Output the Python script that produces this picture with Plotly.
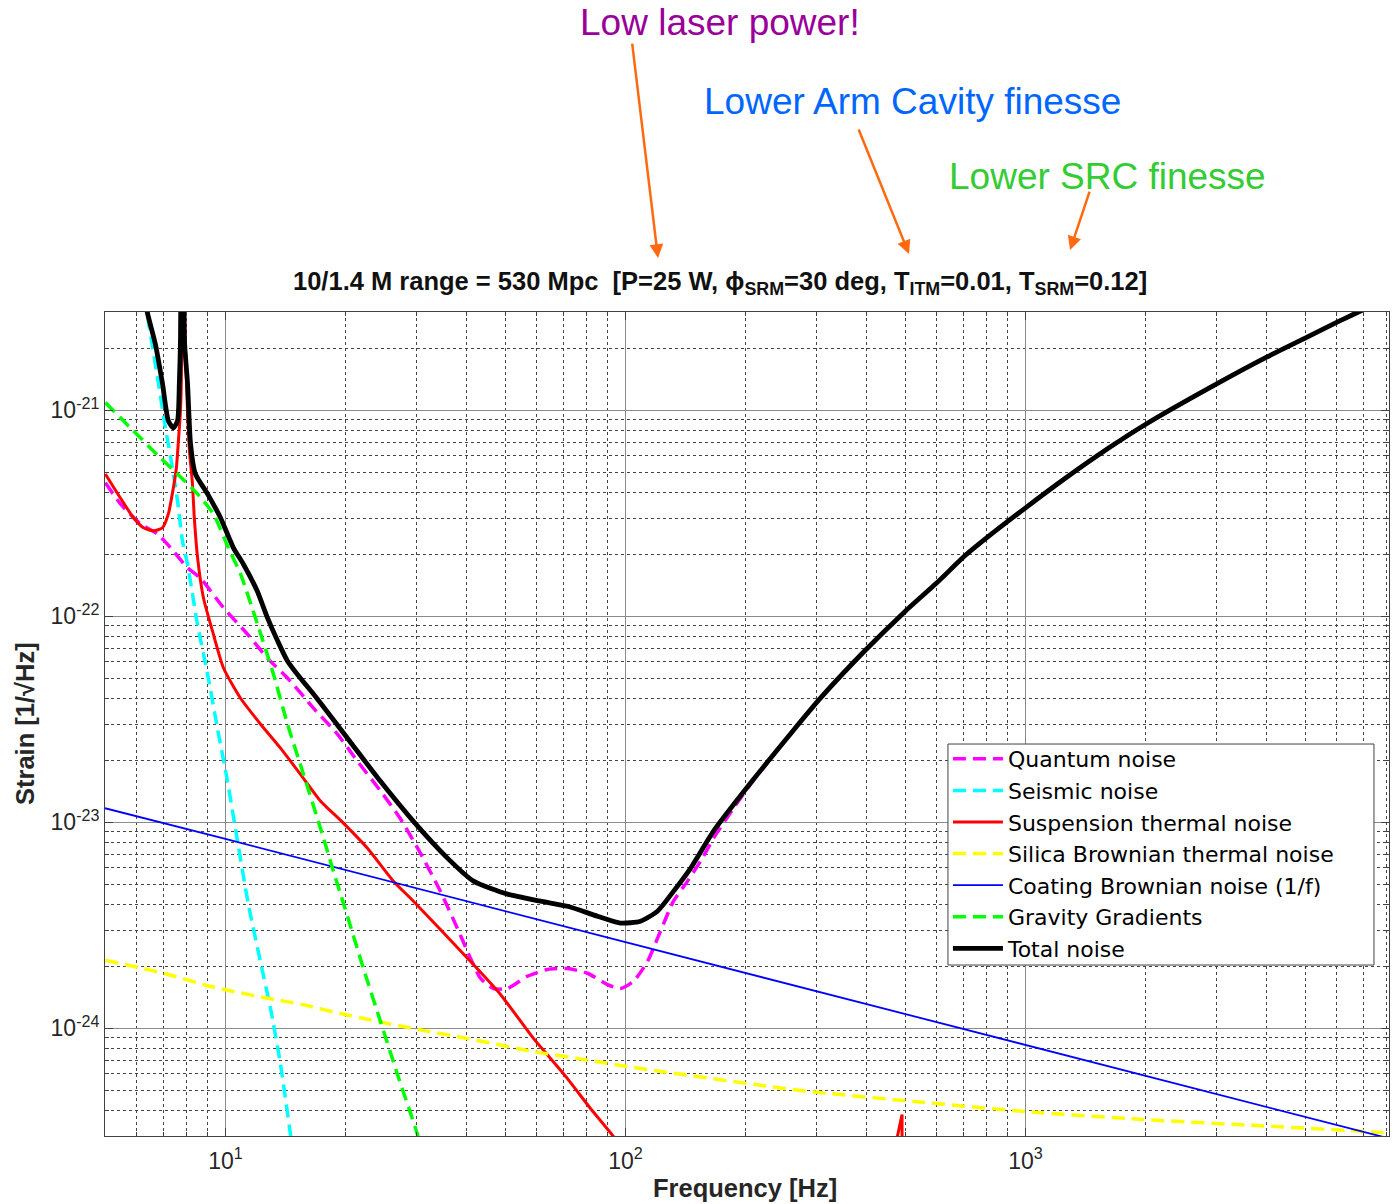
import plotly.graph_objects as go
import math

# ---------------- data ----------------
freq_quantum = [5.01, 5.46, 6.13, 6.76, 7.16, 8.04, 8.66, 9.89, 11.35, 12.74, 14.54, 16.60, 19.05,
                21.38, 24.41, 27.38, 30.72, 34.47, 38.02, 40.97, 43.40, 46.77, 50.70, 56.89, 63.83,
                71.61, 80.35, 90.16, 97.2, 104.7, 113.5, 122.3, 131.8, 142.9, 154.0, 166.0, 186.2,
                205.4, 263.0, 309.0, 395.9, 498.3, 599.2, 704.1, 798.9, 1000, 1252, 1603, 2007,
                3020, 4004, 5041, 6061, 6569, 8100]
strain_quantum = [4.45e-22, 3.52e-22, 2.81e-22, 2.51e-22, 2.24e-22, 1.72e-22, 1.53e-22, 1.10e-22,
                  8.20e-23, 6.27e-23, 4.84e-23, 3.58e-23, 2.68e-23, 1.98e-23, 1.42e-23, 1.04e-23,
                  7.08e-24, 4.62e-24, 3.05e-24, 2.19e-24, 1.75e-24, 1.56e-24, 1.56e-24, 1.79e-24,
                  1.93e-24, 1.95e-24, 1.85e-24, 1.63e-24, 1.56e-24, 1.69e-24, 2.11e-24, 2.96e-24,
                  4.14e-24, 5.18e-24, 6.47e-24, 8.37e-24, 1.17e-23, 1.53e-23, 2.80e-23, 4.06e-23,
                  6.78e-23, 1.05e-22, 1.45e-22, 1.96e-22, 2.40e-22, 3.36e-22, 4.65e-22, 6.50e-22,
                  8.60e-22, 1.35e-21, 1.81e-21, 2.26e-21, 2.70e-21, 2.91e-21, 3.52e-21]

freq_seismic = [5.0, 6.49, 6.80, 7.08, 7.37, 7.59, 7.81, 8.04, 8.51, 9.02, 9.55, 10.12, 10.72,
                11.41, 12.23, 12.96, 13.73, 14.54, 15.0]
strain_seismic = [5e-20, 2.36e-21, 1.35e-21, 8.22e-22, 5.26e-22, 3.63e-22, 2.32e-22, 1.79e-22,
                  9.18e-23, 5.25e-23, 2.86e-23, 1.58e-23, 8.09e-24, 4.00e-24, 2.11e-24, 1.25e-24,
                  6.68e-25, 3.05e-25, 2.0e-25]

# suspension thermal noise: low-frequency part with the pendulum resonance
freq_susp = [5.01, 5.46, 5.89, 6.24, 6.61, 6.96, 7.20, 7.41, 7.54, 7.63, 7.72, 7.76, 7.84, 7.92,
             8.04, 8.13, 8.27, 8.36, 8.51, 8.81, 9.28, 9.89, 10.90, 12.23, 13.73, 15.40, 17.28,
             19.72, 22.65, 26.30, 29.51, 40.27, 48.70, 58.88, 64.94, 71.61, 81.75, 93.33, 100,
             150, 250, 400]
strain_susp = [4.91e-22, 3.76e-22, 3.01e-22, 2.69e-22, 2.60e-22, 2.69e-22, 3.14e-22, 4.20e-22,
               5.26e-22, 7.11e-22, 9.95e-22, 1.44e-21, 3e-20, 2.5e-21, 9.95e-22, 6.35e-22,
               4.40e-22, 3.01e-22, 1.96e-22, 1.23e-22, 8.49e-23, 5.61e-23, 4.01e-23, 3.00e-23,
               2.29e-23, 1.71e-23, 1.27e-23, 9.91e-24, 7.48e-24, 5.18e-24, 4.14e-24, 2.19e-24,
               1.46e-24, 8.93e-25, 7.14e-25, 5.70e-25, 4.08e-25, 2.98e-25, 2.4e-25, 8e-26,
               2.2e-26, 7e-27]
# suspension thermal noise: violin-mode region
freq_violin = [400, 470, 478.6, 484.2, 491.2, 492.5, 600, 8100]
strain_violin = [7e-27, 2e-26, 3.0e-25, 3.30e-25, 3.81e-25, 1e-26, 4e-27, 1e-29]

freq_silica = [5.01, 6.03, 7.16, 9.02, 10.47, 12.74, 15.40, 19.72, 30.20, 40.27, 58.88, 78.52,
               109.0, 273.8, 528, 1006, 1961, 3780, 7289, 8100]
strain_silica = [2.14e-24, 1.98e-24, 1.83e-24, 1.61e-24, 1.51e-24, 1.40e-24, 1.31e-24, 1.17e-24,
                 9.88e-25, 8.93e-25, 7.71e-25, 7.06e-25, 6.38e-25, 4.99e-25, 4.41e-25, 3.94e-25,
                 3.61e-25, 3.37e-25, 3.15e-25, 3.10e-25]

freq_coating = [5, 10, 100, 1000, 8100]
strain_coating = [1.17e-23, 8.3e-24, 2.62e-24, 8.3e-25, 2.92e-25]

freq_gravity = [5.01, 5.89, 6.88, 7.59, 8.51, 9.33, 10.17, 10.90, 12.02, 13.18, 14.29, 15.67,
                17.28, 18.62, 19.72, 22.13, 24.41, 26.92, 30.20, 32.0]
strain_gravity = [1.09e-21, 7.94e-22, 5.87e-22, 4.91e-22, 3.93e-22, 3.14e-22, 2.15e-22, 1.61e-22,
                  9.18e-23, 5.25e-23, 3.00e-23, 1.71e-23, 9.36e-24, 5.78e-24, 4.05e-24, 1.95e-24,
                  1.08e-24, 5.97e-25, 3.05e-25, 2.0e-25]

freq_total = [5.0, 6.0, 6.38, 6.68, 6.96, 7.20, 7.41, 7.59, 7.67, 7.72, 7.81, 7.90, 8.04, 8.18,
              8.41, 9.02, 9.72, 10.47, 11.09, 12.0, 12.74, 13.5, 14.29, 15.4, 16.60, 20.18, 24.41,
              29.51, 35.89, 41.69, 50.70, 61.30, 71.6, 85.1, 97.2, 109.0, 120.2, 131.8, 145.4,
              166.0, 205.4, 263.0, 309.0, 395.9, 498.3, 599.2, 704.1, 798.9, 1000, 1252, 1603,
              2007, 3020, 4004, 5041, 6061, 6569, 8100]
strain_total = [5e-20, 5.5e-21, 2.98e-21, 2.10e-21, 1.35e-21, 8.89e-22, 8.22e-22, 8.89e-22,
                1.35e-21, 2.18e-21, 1e-19, 2.18e-21, 1.35e-21, 6.87e-22, 4.91e-22, 3.93e-22,
                3.01e-22, 2.15e-22, 1.79e-22, 1.33e-22, 9.82e-23, 7.6e-23, 6.07e-23, 5.0e-23,
                4.19e-23, 2.56e-23, 1.58e-23, 1.01e-23, 6.70e-24, 5.18e-24, 4.48e-24, 4.14e-24,
                3.91e-24, 3.50e-24, 3.24e-24, 3.31e-24, 3.70e-24, 4.62e-24, 5.98e-24, 9.06e-24,
                1.55e-23, 2.80e-23, 4.06e-23, 6.78e-23, 1.05e-22, 1.45e-22, 1.96e-22, 2.40e-22,
                3.36e-22, 4.65e-22, 6.50e-22, 8.60e-22, 1.35e-21, 1.81e-21, 2.26e-21, 2.70e-21,
                2.91e-21, 3.52e-21]

x_tick_vals = [10, 100, 1000]
x_tick_text = ["10<sup>1</sup>", "10<sup>2</sup>", "10<sup>3</sup>"]
y_tick_vals = [1e-24, 1e-23, 1e-22, 1e-21]
y_tick_text = ["10<sup>-24</sup>", "10<sup>-23</sup>", "10<sup>-22</sup>", "10<sup>-21</sup>"]

# ---------------- figure ----------------
FONT = "Liberation Sans, Arial, Helvetica, sans-serif"
LEGEND_FONT = "DejaVu Sans, Liberation Sans, Arial, sans-serif"
DASH = "13px,7px"

fig = go.Figure()
series = [
    ("Quantum noise", freq_quantum, strain_quantum, "#ff00ff", 3.5, DASH, "spline", True),
    ("Seismic noise", freq_seismic, strain_seismic, "#00ffff", 3.5, DASH, "spline", True),
    ("Suspension thermal noise", freq_susp, strain_susp, "#ff0000", 3.0, "solid", "spline", True),
    ("Suspension thermal noise", freq_violin, strain_violin, "#ff0000", 3.0, "solid", "linear", False),
    ("Silica Brownian thermal noise", freq_silica, strain_silica, "#ffff00", 3.5, DASH, "spline", True),
    ("Coating Brownian noise (1/f)", freq_coating, strain_coating, "#0000ff", 1.8, "solid", "linear", True),
    ("Gravity Gradients", freq_gravity, strain_gravity, "#00ff00", 3.5, DASH, "spline", True),
    ("Total noise", freq_total, strain_total, "#000000", 4.8, "solid", "spline", True),
]
for name, fx, fy, col, w, d, shp, leg in series:
    line = dict(color=col, width=w, dash=d, shape=shp)
    if shp == "spline":
        line["smoothing"] = 0.6
    fig.add_trace(go.Scatter(x=fx, y=fy, mode="lines", name=name, line=line,
                             showlegend=leg, hoverinfo="skip"))

def minor_vals(lo_exp, hi_exp):
    vals = []
    for e in range(lo_exp, hi_exp + 1):
        for m in range(2, 10):
            vals.append(m * 10.0 ** e)
    return vals

axis_common = dict(
    type="log", showline=True, linecolor="#404040", linewidth=1, mirror="all",
    showgrid=True, gridcolor="#8a8a8a", gridwidth=1,
    ticks="inside", ticklen=8, tickcolor="#404040",
    tickfont=dict(family=FONT, size=23, color="#262626"),
    zeroline=False,
)

fig.update_xaxes(
    **axis_common,
    range=[math.log10(5), math.log10(8100)],
    tickmode="array", tickvals=x_tick_vals, ticktext=x_tick_text,
    ticklabelstandoff=4,
    minor=dict(tickvals=minor_vals(0, 3), showgrid=True, gridcolor="#444444",
               griddash="3px,3px", gridwidth=1, ticks="inside", ticklen=4, tickcolor="#404040"),
)
fig.update_yaxes(
    **axis_common,
    range=[math.log10(3e-25), math.log10(3e-21)],
    tickmode="array", tickvals=y_tick_vals, ticktext=y_tick_text,
    minor=dict(tickvals=minor_vals(-25, -21), showgrid=True, gridcolor="#444444",
               griddash="3px,3px", gridwidth=1, ticks="inside", ticklen=4, tickcolor="#404040"),
)

annotations = [
    dict(text="<b>10/1.4 M range = 530 Mpc\u00a0\u00a0[P=25 W, \u03d5<sub>SRM</sub>=30 deg, "
              "T<sub>ITM</sub>=0.01, T<sub>SRM</sub>=0.12]</b>",
         x=0.479, y=1.0352, xref="paper", yref="paper", showarrow=False,
         xanchor="center", yanchor="middle", font=dict(family=FONT, size=25.5, color="#111111")),
    dict(text="<b>Frequency [Hz]</b>", x=0.4984, y=-0.063, xref="paper", yref="paper",
         showarrow=False, xanchor="center", yanchor="middle",
         font=dict(family=FONT, size=25.5, color="#262626")),
    dict(text="<b>Strain [1/\u221aHz]</b>", x=-0.0623, y=0.5, xref="paper", yref="paper",
         showarrow=False, xanchor="center", yanchor="middle", textangle=-90,
         font=dict(family=FONT, size=25.5, color="#262626")),
    dict(text="Low laser power!", x=0.4790, y=1.3519, xref="paper", yref="paper",
         showarrow=False, xanchor="center", yanchor="middle",
         font=dict(family=FONT, size=37, color="#990099")),
    dict(text="Lower Arm Cavity finesse", x=0.6289, y=1.2549, xref="paper", yref="paper",
         showarrow=False, xanchor="center", yanchor="middle",
         font=dict(family=FONT, size=37, color="#0066ff")),
    dict(text="Lower SRC finesse", x=0.7808, y=1.1650, xref="paper", yref="paper",
         showarrow=False, xanchor="center", yanchor="middle",
         font=dict(family=FONT, size=37, color="#33cc33")),
]
for hx, hy, ax, ay in [(0.4307, 1.0655, -26, -216), (0.6262, 1.0704, -51, -126),
                       (0.7516, 1.0752, 20, -60)]:
    annotations.append(dict(text="", x=hx, y=hy, xref="paper", yref="paper", ax=ax, ay=ay,
                            showarrow=True, arrowhead=2, arrowsize=1.1, arrowwidth=2.5,
                            arrowcolor="#ff6a10", standoff=0, startstandoff=0))

# legend frame (drawn as a box so its size matches the reference)
shapes = [dict(type="rect", xref="paper", yref="paper", x0=0.6565, x1=0.9883, y0=0.2075,
               y1=0.4757, fillcolor="white", line=dict(color="#404040", width=1),
               layer="above")]

fig.update_layout(
    width=1394, height=1204,
    margin=dict(l=105, r=5, t=312, b=68),
    paper_bgcolor="white", plot_bgcolor="white",
    font=dict(family=FONT),
    showlegend=True,
    legend=dict(x=0.6565, y=0.483, xanchor="left", yanchor="top",
                bgcolor="rgba(0,0,0,0)", borderwidth=0,
                font=dict(family=LEGEND_FONT, size=22, color="#000000"),
                itemwidth=50, tracegroupgap=0),
    annotations=annotations,
    shapes=shapes,
)

fig.write_html("out.html")
